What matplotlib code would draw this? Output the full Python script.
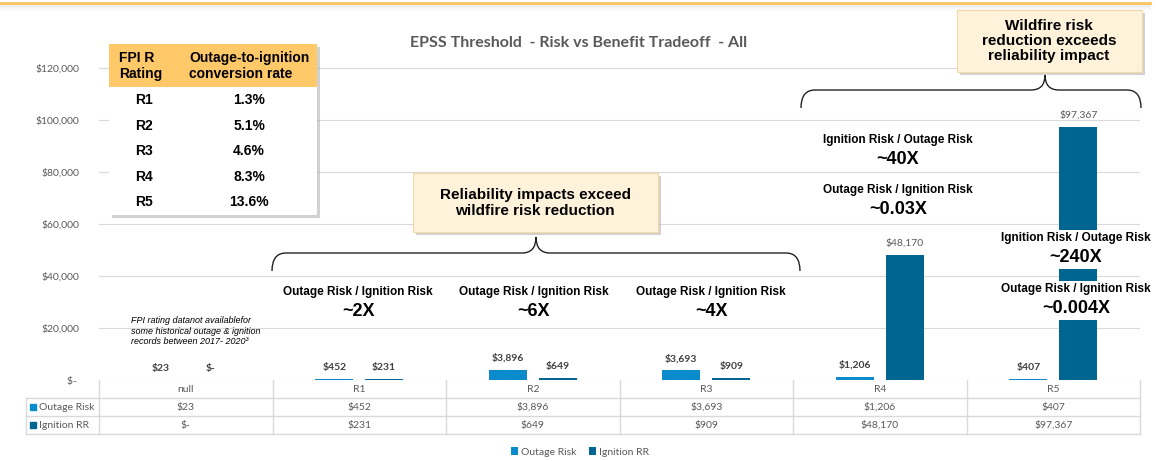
import numpy as np
import matplotlib
matplotlib.use('Agg')
import matplotlib.pyplot as plt
import matplotlib.transforms as mtransforms
from matplotlib.patches import Rectangle, PathPatch
from matplotlib.path import Path
from matplotlib.lines import Line2D

# chart data
categories = ['null', 'R1', 'R2', 'R3', 'R4', 'R5']
outage_risk = [23, 452, 3896, 3693, 1206, 407]
ignition_rr = [0, 231, 649, 909, 48170, 97367]

# inset table
fpi_ratings = ['R1', 'R2', 'R3', 'R4', 'R5']
conversion_rate = ['1.3%', '5.1%', '4.6%', '8.3%', '13.6%']

C_OUT = '#0A8BCB'
C_IGN = '#006691'
GRAY = '#595959'
LINE = '#d9d9d9'
CAL = 'Lato'
ARI = 'Liberation Sans'
NAR = ['Liberation Sans Narrow', 'Liberation Sans']

plt.rcParams['font.family'] = CAL

W, H = 1156, 461


def fx(px):
    return px / W


def fy(py):
    return 1 - py / H


def money(v):
    return '$-' if v == 0 else '${:,.0f}'.format(v)


fig = plt.figure(figsize=(W / 100, H / 100), dpi=100)
ax = fig.add_axes([fx(99), fy(380), fx(1140) - fx(99), fy(16) - fy(380)])

x = np.arange(len(categories))
bw = 0.22
off = 0.144
b1 = ax.bar(x - off, outage_risk, bw, color=C_OUT, zorder=2, label='Outage Risk')
b2 = ax.bar(x + off, ignition_rr, bw, color=C_IGN, zorder=2, label='Ignition RR')

for bars, vals in ((b1, outage_risk), (b2, ignition_rr)):
    for r, v in zip(bars, vals):
        big = v > 10000
        ax.annotate(money(v), (r.get_x() + r.get_width() / 2, v), xytext=(0, 5),
                    textcoords='offset points', ha='center', va='bottom',
                    fontsize=7.5, color=GRAY if big else '#404040',
                    fontweight='normal' if big else 'bold', zorder=3)

ax.set_xlim(-0.5, 5.5)
ax.set_ylim(0, 140000)
ax.set_yticks(np.arange(0, 120001, 20000))
ax.set_yticklabels(['$- ' if t == 0 else '${:,.0f}'.format(t) for t in ax.get_yticks()])
ax.tick_params(axis='y', length=0, pad=14, labelsize=7.5, labelcolor=GRAY)
ax.set_xticks([])
ax.grid(axis='y', color=LINE, lw=0.8, zorder=0)
ax.set_axisbelow(True)
for s in ax.spines.values():
    s.set_visible(False)

fig.text(fx(579), fy(43), 'EPSS Threshold  - Risk vs Benefit Tradeoff  - All', fontsize=11.5,
         fontweight='bold', color=GRAY, ha='center', va='center')

# data table under the chart
blend = mtransforms.blended_transform_factory(ax.transData, fig.transFigure)
for i in range(len(categories) + 1):
    fig.add_artist(Line2D([i - 0.5, i - 0.5], [fy(380), fy(434)], color=LINE, lw=1, transform=blend))
fig.add_artist(Line2D([fx(26), fx(26)], [fy(398), fy(434)], color=LINE, lw=1))
for yy in (398, 416, 434):
    fig.add_artist(Line2D([fx(26), fx(1140)], [fy(yy), fy(yy)], color=LINE, lw=1))

for i, c in enumerate(categories):
    fig.text(i, fy(389), c, transform=blend, ha='center', va='center', fontsize=7.5, color=GRAY)
    fig.text(i, fy(407), money(outage_risk[i]), transform=blend, ha='center', va='center',
             fontsize=7.5, color=GRAY)
    fig.text(i, fy(425), money(ignition_rr[i]), transform=blend, ha='center', va='center',
             fontsize=7.5, color=GRAY)
for yy, name, col in ((407, 'Outage Risk', C_OUT), (425, 'Ignition RR', C_IGN)):
    fig.add_artist(Rectangle((fx(30), fy(yy + 3)), fx(6), 6 / H, color=col))
    fig.text(fx(39), fy(yy), name, ha='left', va='center', fontsize=7.5, color=GRAY)

fig.legend(handles=[b1, b2], loc='center', bbox_to_anchor=(fx(580), fy(452)), ncol=2,
           frameon=False, prop={'family': CAL, 'size': 7.5}, labelcolor=GRAY,
           handlelength=0.7, handleheight=0.7, handletextpad=0.3, columnspacing=1.2)

# orange rule at the top
for k in range(6):
    fig.add_artist(Line2D([0, fx(1150)], [fy(5 + k), fy(5 + k)], color='#000000',
                          alpha=0.05 * (6 - k) / 6, lw=1))
fig.add_artist(Line2D([0, fx(1150)], [fy(3), fy(3)], color='#FFC869', lw=2.2))


def box(x0, y0, x1, y1, face, edge, shadow=3):
    fig.add_artist(Rectangle((fx(x0 + shadow), fy(y1 + shadow)), fx(x1 - x0), (y1 - y0) / H,
                             color='#9a9a9a', alpha=0.45, lw=0))
    fig.add_artist(Rectangle((fx(x0), fy(y1)), fx(x1 - x0), (y1 - y0) / H,
                             facecolor=face, edgecolor=edge, lw=0.8))


def brace(x0, xm, x1, ye, yf, yp, r=14):
    pts = [(x0, ye), (x0, yf), (x0 + r, yf), (xm - r, yf), (xm, yf), (xm, yp),
           (xm, yf), (xm + r, yf), (x1 - r, yf), (x1, yf), (x1, ye)]
    codes = [Path.MOVETO, Path.CURVE3, Path.CURVE3, Path.LINETO, Path.CURVE3, Path.CURVE3,
             Path.CURVE3, Path.CURVE3, Path.LINETO, Path.CURVE3, Path.CURVE3]
    p = Path([(fx(a), fy(b)) for a, b in pts], codes)
    fig.add_artist(PathPatch(p, facecolor='none', edgecolor='#222222', lw=1.0,
                             transform=fig.transFigure))


# inset FPI table
box(109, 44, 317, 215, 'white', 'none', shadow=3)
fig.add_artist(Rectangle((fx(109), fy(87)), fx(208), 43 / H, color='#FFC869', lw=0))
fig.text(fx(119), fy(66), 'FPI R\nRating', ha='left', va='center', fontsize=10,
         fontweight='bold', family=ARI, linespacing=1.1)
fig.text(fx(189), fy(66), 'Outage-to-ignition\nconversion rate', ha='left', va='center',
         fontsize=10, fontweight='bold', family=ARI, linespacing=1.1)
for k, (rt, cr) in enumerate(zip(fpi_ratings, conversion_rate)):
    yy = 100 + k * 25.5
    fig.text(fx(144), fy(yy), rt, ha='center', va='center', fontsize=10, fontweight='bold', family=ARI)
    fig.text(fx(249), fy(yy), cr, ha='center', va='center', fontsize=10, fontweight='bold', family=ARI)

# callouts
box(413, 173, 658, 232, '#FFF2DA', '#F3D9A6')
fig.text(fx(535), fy(203), 'Reliability impacts exceed\nwildfire risk reduction', ha='center',
         va='center', fontsize=11, fontweight='bold', family=ARI, linespacing=1.15)
brace(272, 536, 800, 271, 253, 237)

box(957, 10, 1142, 72, '#FFF2DA', '#F3D9A6')
fig.text(fx(1049), fy(41), 'Wildfire risk\nreduction exceeds\nreliability impact', ha='center',
         va='center', fontsize=11, fontweight='bold', family=ARI, linespacing=1.1)
brace(801, 1045, 1141, 108, 90, 75)

fig.text(fx(131), fy(331), 'FPI rating datanot availablefor\nsome historical outage & ignition\n'
         'records between 2017- 2020\u00b3', ha='left', va='center', fontsize=6.5,
         style='italic', family=ARI, linespacing=1.15)

# ratio notes
notes = [
    (358, 292, 'Outage Risk / Ignition Risk', '~2X', False),
    (534, 292, 'Outage Risk / Ignition Risk', '~6X', False),
    (711, 292, 'Outage Risk / Ignition Risk', '~4X', False),
    (898, 140, 'Ignition Risk / Outage Risk', '~40X', False),
    (898, 190, 'Outage Risk / Ignition Risk', '~0.03X', False),
    (1076, 238, 'Ignition Risk / Outage Risk', '~240X', True),
    (1076, 289, 'Outage Risk / Ignition Risk', '~0.004X', True),
]
for nx, ny, head, val, masked in notes:
    if masked:
        fig.add_artist(Rectangle((fx(1050), fy(ny + 31)), fx(55), 39 / H, color='white', lw=0))
    fig.text(fx(nx), fy(ny), head, ha='center', va='center', fontsize=8.5,
             fontweight='bold', family=NAR)
    fig.text(fx(nx), fy(ny + 19.5), val, ha='center', va='center', fontsize=13,
             fontweight='bold', family=NAR)

fig.savefig('out.png', dpi=100)
